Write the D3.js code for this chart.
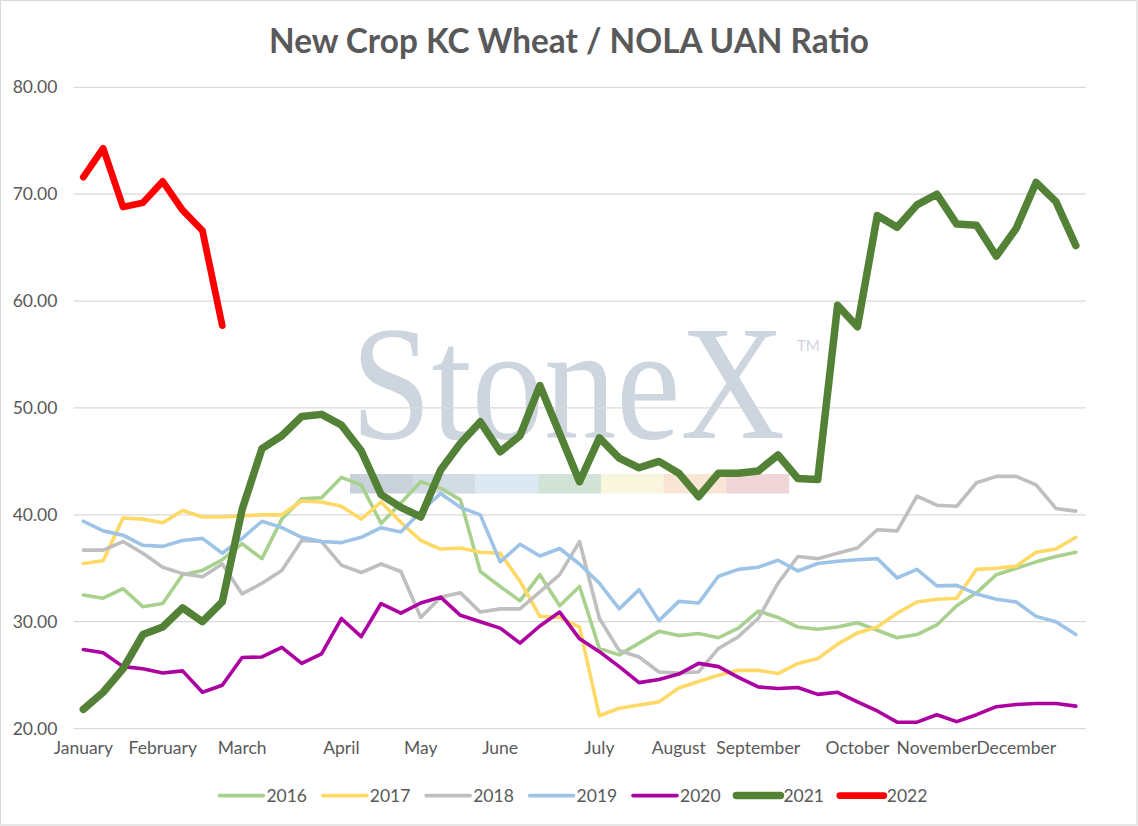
<!DOCTYPE html>
<html>
<head>
<meta charset="utf-8">
<script src="https://cdn.jsdelivr.net/npm/d3@7"></script>
<style>
  html, body { margin: 0; padding: 0; background: #fff; }
  svg { display: block; }
  .sans { font-family: Lato, "Noto Sans", sans-serif; }
  .serif { font-family: "Liberation Serif", "DejaVu Serif", serif; }
</style>
</head>
<body>
<svg id="chart" width="1138" height="826"></svg>
<script>
// ---------------- DATA ----------------
const titleText = "New Crop KC Wheat / NOLA UAN Ratio";
const weekCount = 51;
const monthLabels = ["January","February","March","April","May","June","July","August","September","October","November","December"];
const monthStart  = [0, 4, 8, 13, 17, 21, 26, 30, 34, 39, 43, 47];
const yTicks = [20, 30, 40, 50, 60, 70, 80];

const seriesNames = ["2016","2017","2018","2019","2020","2021","2022"];

const s2016 = [32.5,32.2,33.1,31.4,31.7,34.4,34.8,35.8,37.3,35.9,39.6,41.5,41.6,43.5,42.8,39.2,41.1,43.1,42.5,41.4,
               34.7,33.3,31.95,34.4,31.5,33.3,27.5,26.9,28.0,29.1,28.7,28.9,28.5,29.4,31.0,30.4,29.5,29.3,29.5,29.9,
               29.2,28.5,28.8,29.7,31.5,32.7,34.4,35.0,35.6,36.1,36.5];
const s2017 = [35.45,35.7,39.7,39.6,39.25,40.4,39.8,39.8,39.9,40.0,40.0,41.3,41.2,40.8,39.6,41.2,39.3,37.6,36.8,36.9,
               36.5,36.4,33.8,30.5,30.4,29.5,21.2,21.9,22.2,22.5,23.8,24.4,25.0,25.45,25.45,25.15,26.1,26.55,27.9,28.95,
               29.5,30.8,31.85,32.1,32.2,34.9,35.0,35.2,36.5,36.8,37.9];
const s2018 = [36.7,36.7,37.5,36.4,35.1,34.5,34.2,35.4,32.6,33.6,34.8,37.6,37.5,35.3,34.6,35.4,34.7,30.4,32.3,32.7,
               30.9,31.2,31.2,32.8,34.4,37.5,30.3,27.3,26.7,25.3,25.2,25.3,27.5,28.6,30.3,33.6,36.1,35.9,36.4,36.9,
               38.6,38.5,41.75,40.9,40.8,43.0,43.6,43.6,42.8,40.6,40.35];
const s2019 = [39.4,38.5,38.1,37.15,37.05,37.6,37.8,36.4,37.8,39.4,38.8,37.9,37.5,37.4,37.9,38.8,38.4,40.3,42.0,40.7,
               40.0,35.6,37.25,36.15,36.85,35.4,33.6,31.2,33.0,30.1,31.9,31.75,34.25,34.9,35.1,35.75,34.75,35.45,35.65,35.8,
               35.9,34.1,34.9,33.35,33.4,32.6,32.1,31.85,30.5,30.0,28.8];
const s2020 = [27.4,27.1,25.8,25.6,25.2,25.4,23.4,24.05,26.65,26.7,27.6,26.1,27.0,30.3,28.6,31.7,30.8,31.75,32.3,30.6,
               30.0,29.4,28.0,29.6,30.9,28.4,27.2,25.8,24.3,24.6,25.1,26.1,25.8,24.8,23.9,23.75,23.85,23.2,23.4,22.5,
               21.65,20.6,20.6,21.3,20.65,21.3,22.05,22.25,22.35,22.35,22.1];
const s2021 = [21.8,23.4,25.6,28.8,29.5,31.3,30.0,31.85,40.5,46.2,47.4,49.2,49.4,48.4,46.0,41.9,40.7,39.8,44.2,46.7,
               48.7,45.9,47.4,52.1,47.6,43.1,47.2,45.3,44.4,45.0,43.9,41.7,43.9,43.9,44.1,45.6,43.4,43.3,59.6,57.6,
               68.0,66.9,69.0,70.0,67.2,67.1,64.2,66.8,71.1,69.3,65.2];
const s2022 = [71.6,74.3,68.8,69.2,71.2,68.5,66.6,57.7];

const seriesValues = [s2016, s2017, s2018, s2019, s2020, s2021, s2022];
const seriesColors = ["#A9D18E","#FFD966","#BFBFBF","#9DC3E6","#AD00A0","#538135","#FF0000"];
const seriesWidths = [3.6, 3.6, 3.6, 3.6, 3.6, 7.5, 6.8];

const watermarkBands = ["#C9D1DB","#D3DBE5","#DCE9F3","#D1E2D7","#F8F6DD","#F8E5D3","#F0D5D8"];

// ---------------- LAYOUT ----------------
const svg = d3.select("#chart");
const W = 1138, H = 826;
const plotLeft = 73.4, plotRight = 1085.7, plotTop = 87.3, plotBottom = 728.6;
const textColor = "#595959";

svg.append("rect")
  .attr("x", 0.5).attr("y", 0.5).attr("width", W - 1.5).attr("height", H - 1.5)
  .attr("fill", "#fff").attr("stroke", "#D9D9D9").attr("stroke-width", 1.2);

const x = d3.scaleBand().domain(d3.range(weekCount)).range([plotLeft, plotRight]);
const cx = i => x(i) + x.bandwidth() / 2;
const y = d3.scaleLinear().domain([20, 80]).range([plotBottom, plotTop]);

// Title
svg.append("text")
  .attr("class", "sans")
  .attr("x", 569).attr("y", 53)
  .attr("text-anchor", "middle")
  .attr("font-size", 33.5).attr("font-weight", 700)
  .attr("fill", textColor)
  .attr("textLength", 600).attr("lengthAdjust", "spacingAndGlyphs")
  .text(titleText);

// Watermark
const wm = svg.append("g").attr("class", "watermark");
wm.append("text")
  .attr("class", "serif")
  .attr("transform", "translate(351,438) scale(1,1.12)")
  .attr("x", 0).attr("y", 0)
  .attr("font-size", 145)
  .attr("fill", "#CDD5DF")
  .attr("textLength", 434).attr("lengthAdjust", "spacingAndGlyphs")
  .text("StoneX");
wm.append("text")
  .attr("class", "sans")
  .attr("x", 797).attr("y", 351)
  .attr("font-size", 15)
  .attr("fill", "#CDD5DF")
  .text("TM");
const bandW = 62.7;
wm.selectAll("rect.band").data(watermarkBands).join("rect")
  .attr("class", "band")
  .attr("x", (d, i) => 350 + i * bandW)
  .attr("y", 474).attr("width", bandW + 0.3).attr("height", 19.5)
  .attr("fill", d => d);

// Gridlines
svg.append("g").selectAll("line").data(yTicks).join("line")
  .attr("x1", plotLeft).attr("x2", plotRight)
  .attr("y1", d => y(d)).attr("y2", d => y(d))
  .attr("stroke", "#D9D9D9").attr("stroke-width", 1.3);

// Y axis
const yAxis = svg.append("g")
  .attr("transform", `translate(${plotLeft},0)`)
  .call(d3.axisLeft(y).tickValues(yTicks).tickFormat(d3.format(".2f")).tickSize(0).tickPadding(16));
yAxis.select(".domain").remove();
yAxis.selectAll("text").attr("class", "sans").attr("font-size", 17.5).attr("fill", textColor);

// X axis
const monthMap = new Map(monthStart.map((m, i) => [m, monthLabels[i]]));
const xAxis = svg.append("g")
  .attr("transform", `translate(0,${plotBottom})`)
  .call(d3.axisBottom(x).tickValues(monthStart).tickFormat(d => monthMap.get(d)).tickSize(0).tickPadding(13));
xAxis.select(".domain").remove();
xAxis.selectAll("text").attr("class", "sans").attr("font-size", 17.5).attr("fill", textColor);

// Lines
const line = d3.line().x((d, i) => cx(i)).y(d => y(d));
svg.append("g").selectAll("path").data(seriesValues).join("path")
  .attr("d", d => line(d))
  .attr("fill", "none")
  .attr("stroke", (d, i) => seriesColors[i])
  .attr("stroke-width", (d, i) => seriesWidths[i])
  .attr("stroke-linejoin", "round")
  .attr("stroke-linecap", "round");

// Legend
const legendX0 = 219.4, legendStep = 103.4, legendY = 795.6;
const lg = svg.append("g").selectAll("g").data(seriesNames).join("g")
  .attr("transform", (d, i) => `translate(${legendX0 + i * legendStep},${legendY})`);
lg.append("line")
  .attr("x1", 0).attr("x2", 44).attr("y1", 0).attr("y2", 0)
  .attr("stroke", (d, i) => seriesColors[i])
  .attr("stroke-width", (d, i) => seriesWidths[i])
  .attr("stroke-linecap", "round");
lg.append("text")
  .attr("class", "sans")
  .attr("x", 47).attr("y", 6.5)
  .attr("font-size", 17.5).attr("fill", textColor)
  .text(d => d);
</script>
</body>
</html>
